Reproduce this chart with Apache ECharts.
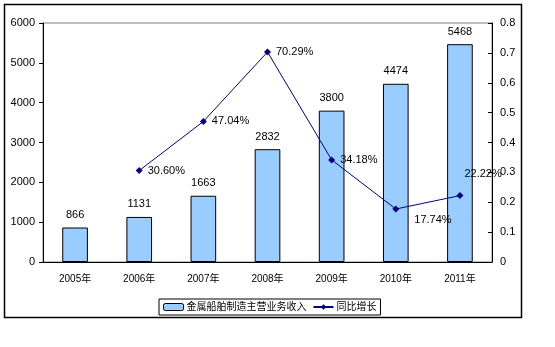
<!DOCTYPE html>
<html><head><meta charset="utf-8">
<script src="https://cdn.jsdelivr.net/npm/echarts@6/dist/echarts.min.js"></script>
<style>html,body{margin:0;padding:0;background:#fff}#c{width:555px;height:347px}</style>
</head><body><div id="c"></div>
<script>
const categories = ['2005年','2006年','2007年','2008年','2009年','2010年','2011年'];
const revenue = [866, 1131, 1663, 2832, 3800, 4474, 5468];
const growth = [null, 0.3060, 0.4704, 0.7029, 0.3418, 0.1774, 0.2222];
const labelOffsets = [[0,0],[0,0],[0,0],[0,0],[0,0],[10,11],[-4,-22]];
const seriesNames = ['金属船舶制造主营业务收入','同比增长'];

const FONT = '"Liberation Sans", Arial, "Noto Sans CJK SC", sans-serif';
const chart = echarts.init(document.getElementById('c'), null, {renderer:'canvas'});
chart.setOption({
  animation:false,
  textStyle:{fontFamily:FONT},
  graphic:[{type:'rect',shape:{x:4.5,y:4.5,width:517,height:313},style:{fill:'none',stroke:'#000',lineWidth:1.5},z:-1}],
  grid:{left:43,top:23,right:63,bottom:85,show:true,borderColor:'#808080',borderWidth:1},
  legend:{
    bottom:32,left:159,itemGap:6,itemWidth:20,itemHeight:7,
    borderColor:'#000',borderWidth:1,padding:[3,4,3,4],borderRadius:0,
    textStyle:{fontFamily:FONT,fontSize:10,color:'#000',padding:[0,0,0,-2]},
    data:[{name:seriesNames[0],itemStyle:{borderColor:'#000',borderWidth:1}},{name:seriesNames[1]}]
  },
  xAxis:{type:'category',data:categories,
    axisLine:{lineStyle:{color:'#000'}},
    axisTick:{inside:true,length:5,lineStyle:{color:'#000'}},
    axisLabel:{color:'#000',fontSize:10,margin:12,fontFamily:FONT}},
  yAxis:[
    {type:'value',min:0,max:6000,interval:1000,
     axisLine:{show:true,lineStyle:{color:'#000'}},
     axisTick:{show:true,length:4,lineStyle:{color:'#000'}},
     splitLine:{show:false},
     axisLabel:{color:'#000',fontSize:11,margin:8,formatter:v=>String(v)}},
    {type:'value',min:0,max:0.8,interval:0.1,
     axisLine:{show:true,lineStyle:{color:'#000'}},
     axisTick:{show:true,inside:true,length:4,lineStyle:{color:'#000'}},
     splitLine:{show:false},
     axisLabel:{color:'#000',fontSize:11,margin:8,formatter:v=>String(Math.round(v*10)/10)}}
  ],
  series:[
    {name:seriesNames[0],type:'bar',data:revenue,barWidth:'40%',
     itemStyle:{color:'#99CCFF',borderColor:'#000',borderWidth:1},
     label:{show:true,position:'top',distance:7,color:'#000',fontSize:11}},
    {name:seriesNames[1],type:'line',yAxisIndex:1,
     data:growth.map((v,i)=>({value:v,label:{offset:labelOffsets[i]}})),
     symbol:'diamond',symbolSize:7,
     lineStyle:{color:'#000080',width:1},itemStyle:{color:'#000080'},
     label:{show:true,position:'right',color:'#000',fontSize:11,distance:5,
       formatter:p=>p.value==null?'':(p.value*100).toFixed(2)+'%'}}
  ]
});
</script></body></html>
